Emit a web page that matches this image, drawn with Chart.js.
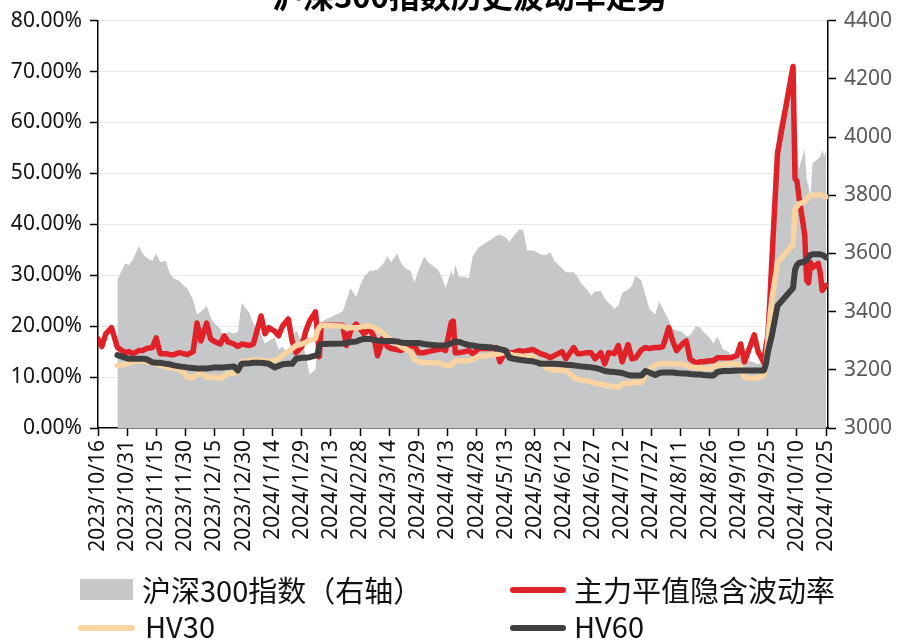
<!DOCTYPE html>
<html><head><meta charset="utf-8">
<script src="https://cdn.jsdelivr.net/npm/chart.js@4/dist/chart.umd.min.js"></script>
<style>
html,body{margin:0;padding:0;background:#fff;}
#wrap{position:relative;width:897px;height:641px;overflow:hidden;}
#c{position:absolute;left:0;top:0;}
.t{position:absolute;font-family:"Noto Sans CJK SC","Noto Sans",sans-serif;font-size:29px;line-height:34px;color:#111;white-space:nowrap;}
.sw{position:absolute;}
#title{position:absolute;left:272px;top:-21px;font-family:"Noto Sans CJK SC",sans-serif;font-weight:bold;font-size:31px;line-height:31px;white-space:nowrap;color:#000;}
</style></head>
<body><div id="wrap"><canvas id="c" width="897" height="641"></canvas>
<div id="title">沪深300指数历史波动率走势</div>
<div class="sw" style="left:80px;top:579px;width:53px;height:21px;background:#c6c7c9"></div>
<div class="t" style="left:142px;top:572px">沪深300指数（右轴）</div>
<div class="sw" style="left:510px;top:587px;width:56px;height:6px;border-radius:3px;background:#e02127"></div>
<div class="t" style="left:574px;top:572px">主力平值隐含波动率</div>
<div class="sw" style="left:78px;top:625px;width:57px;height:6px;border-radius:3px;background:#f9d4a0"></div>
<div class="t" style="left:145px;top:608px">HV30</div>
<div class="sw" style="left:510px;top:625px;width:56px;height:6px;border-radius:3px;background:#404040"></div>
<div class="t" style="left:574px;top:608px">HV60</div>
</div>
<script>
const dates = ['2023-10-16','2023-10-18','2023-10-20','2023-10-23','2023-10-26','2023-10-30','2023-11-01','2023-11-03','2023-11-06','2023-11-08',
'2023-11-10','2023-11-13','2023-11-15','2023-11-17','2023-11-20','2023-11-22','2023-11-24','2023-11-27','2023-11-29','2023-12-01',
'2023-12-04','2023-12-06','2023-12-08','2023-12-11','2023-12-13','2023-12-15','2023-12-18','2023-12-20','2023-12-22','2023-12-25',
'2023-12-27','2023-12-29','2024-01-02','2024-01-04','2024-01-08','2024-01-10','2024-01-12','2024-01-15','2024-01-17','2024-01-19',
'2024-01-22','2024-01-24','2024-01-26','2024-01-29','2024-01-31','2024-02-02','2024-02-05','2024-02-06','2024-02-07','2024-02-08',
'2024-02-19','2024-02-21','2024-02-23','2024-02-26','2024-02-28','2024-03-01','2024-03-04','2024-03-06','2024-03-08','2024-03-11',
'2024-03-13','2024-03-15','2024-03-18','2024-03-20','2024-03-22','2024-03-25','2024-03-27','2024-03-29','2024-04-01','2024-04-03',
'2024-04-08','2024-04-10','2024-04-12','2024-04-15','2024-04-16','2024-04-17','2024-04-19','2024-04-22','2024-04-24','2024-04-26',
'2024-04-29','2024-05-06','2024-05-08','2024-05-10','2024-05-13','2024-05-15','2024-05-17','2024-05-20','2024-05-22','2024-05-24',
'2024-05-27','2024-05-29','2024-05-31','2024-06-03','2024-06-05','2024-06-07','2024-06-11','2024-06-13','2024-06-17','2024-06-19',
'2024-06-21','2024-06-24','2024-06-26','2024-06-28','2024-07-01','2024-07-03','2024-07-05','2024-07-08','2024-07-10','2024-07-12',
'2024-07-15','2024-07-17','2024-07-19','2024-07-22','2024-07-24','2024-07-26','2024-07-29','2024-07-31','2024-08-02','2024-08-05',
'2024-08-07','2024-08-09','2024-08-12','2024-08-14','2024-08-16','2024-08-19','2024-08-21','2024-08-23','2024-08-26','2024-08-28',
'2024-08-30','2024-09-02','2024-09-04','2024-09-06','2024-09-09','2024-09-11','2024-09-13','2024-09-18','2024-09-20','2024-09-23',
'2024-09-24','2024-09-25','2024-09-26','2024-09-27','2024-09-30','2024-10-08','2024-10-09','2024-10-10','2024-10-11','2024-10-14',
'2024-10-15','2024-10-16','2024-10-17','2024-10-18','2024-10-21','2024-10-22','2024-10-23','2024-10-24','2024-10-25'];

const csi300 = [null,null,null,null,3510,3565,3560,3580,3625,3600,
3585,3575,3600,3570,3575,3530,3515,3505,3490,3480,
3440,3390,3400,3420,3380,3360,3340,3310,3330,3325,
3330,3430,3395,3360,3320,3290,3300,3310,3270,3280,
3250,3300,3335,3300,3250,3185,3200,3300,3350,3365,
3400,3440,3480,3450,3490,3520,3540,3540,3545,3565,
3590,3570,3600,3570,3550,3540,3500,3540,3590,3570,
3545,3520,3480,3540,3520,3560,3520,3520,3515,3590,
3620,3650,3660,3665,3655,3640,3660,3683,3680,3610,
3610,3605,3595,3595,3605,3575,3550,3535,3535,3520,
3495,3475,3455,3470,3470,3445,3430,3410,3420,3465,
3475,3490,3525,3505,3455,3410,3390,3435,3410,3370,
3340,3335,3330,3315,3320,3350,3345,3330,3310,3290,
3315,3270,3265,3255,3250,3245,3235,3225,3220,3225,
3350,3370,3510,3705,4020,4250,3955,3995,3890,3960,
3855,3830,3790,3910,3925,3935,3955,3935,3955];

const ivATM = [17.5,16.0,18.5,19.7,15.8,14.8,15.0,14.6,15.2,15.2,
15.6,15.8,17.7,14.6,14.6,14.4,14.4,14.8,14.6,14.4,
15.0,20.6,17.1,20.6,17.5,17.0,16.5,18.1,16.9,16.5,
16.0,16.5,16.2,16.5,22.0,18.5,19.7,19.0,18.1,20.0,
21.4,17.1,14.8,16.0,19.0,21.0,22.8,19.0,14.0,20.2,
20.2,16.2,19.0,20.4,19.5,18.5,19.5,18.0,14.2,18.0,
16.0,15.6,15.4,15.2,15.6,16.0,16.2,14.8,14.8,15.0,
15.4,15.6,15.2,20.8,21.0,14.8,14.8,15.0,15.2,14.6,
15.6,15.6,15.8,13.0,15.0,14.8,14.8,15.2,15.0,15.2,
15.4,15.0,14.6,14.2,13.8,14.2,15.0,13.6,15.8,14.6,
14.6,14.8,14.8,13.6,14.8,12.6,14.8,14.6,16.2,13.0,
16.4,13.6,13.8,15.4,15.8,15.6,15.8,15.8,16.0,19.7,
17.1,15.2,16.5,17.1,13.5,12.8,13.0,13.0,13.2,13.2,
13.8,13.8,13.8,13.8,14.2,16.5,13.0,18.3,15.0,12.8,
16.0,18.0,24.5,32.3,54.0,71.0,49.0,48.5,45.5,38.0,
29.0,28.5,32.5,31.5,32.3,30.5,27.0,27.5,28.0];

const hv30 = [null,null,null,null,12.3,12.5,12.8,13.0,13.2,13.2,
13.0,12.8,12.6,12.3,12.0,11.9,11.8,11.5,10.9,10.0,
9.9,10.5,10.9,9.9,10.0,10.0,9.7,10.2,10.7,10.7,
11.0,13.0,13.2,13.3,13.3,13.2,13.0,13.2,13.6,14.2,
15.0,15.6,16.2,16.5,16.8,17.2,17.6,19.0,19.8,20.2,
20.0,19.6,19.7,19.7,19.8,20.0,20.0,19.8,19.3,18.5,
17.8,17.2,16.5,16.0,15.6,15.0,13.5,13.0,12.8,12.8,
12.8,12.6,12.3,12.3,12.8,13.2,13.2,13.2,13.2,13.5,
14.0,14.4,14.5,14.6,14.8,14.5,14.3,14.2,14.0,14.2,
14.0,13.2,12.6,11.8,11.5,11.4,11.3,11.3,10.0,9.6,
9.4,9.3,9.0,8.8,8.6,8.4,8.3,8.1,8.0,8.6,
8.8,8.9,9.0,9.0,10.5,11.5,12.4,12.6,12.6,12.6,
12.6,12.6,12.5,12.3,12.0,11.9,11.8,11.7,11.7,12.0,
12.3,12.4,12.5,12.6,12.6,12.0,9.9,9.7,9.9,10.3,
12.5,17.0,21.5,25.0,32.5,36.0,43.0,43.5,44.0,44.4,
45.0,45.4,45.6,45.7,45.7,45.8,45.7,45.4,45.4];

const hv60 = [null,null,null,null,14.3,13.8,13.6,13.6,13.6,13.6,
13.5,12.9,12.8,12.8,12.6,12.5,12.3,12.1,12.0,11.9,
11.8,11.7,11.7,11.7,11.8,11.9,11.9,11.9,12.0,12.1,
11.3,12.6,12.7,12.8,12.8,12.7,12.6,11.9,12.2,12.5,
12.6,12.6,13.6,13.8,13.8,13.9,14.2,14.3,16.2,16.5,
16.6,16.7,16.9,17.0,17.3,17.5,17.5,17.3,17.2,17.1,
17.1,17.1,17.0,16.8,16.7,16.7,16.7,16.7,16.5,16.4,
16.2,16.2,16.2,16.6,16.8,17.0,16.9,16.5,16.3,16.2,
16.0,15.8,15.6,15.5,15.2,13.8,13.6,13.4,13.3,13.2,
13.1,12.9,12.6,12.6,12.6,12.6,12.5,12.4,12.3,12.2,
12.1,12.0,11.9,11.8,11.5,11.2,11.1,11.0,10.9,10.8,
10.4,10.3,10.3,10.3,11.2,10.9,10.4,10.8,10.9,10.9,
10.9,10.8,10.7,10.7,10.6,10.5,10.5,10.4,10.3,10.3,
11.0,11.2,11.2,11.2,11.3,11.3,11.3,11.3,11.3,11.3,
12.5,14.8,16.5,18.0,24.0,27.5,31.0,32.0,32.4,32.7,
33.0,33.5,34.0,34.1,34.1,34.1,34.0,33.8,33.5];

const base = Date.UTC(2023, 9, 16);
function dayOf(s){const p=s.split('-').map(Number);return Math.round((Date.UTC(p[0],p[1]-1,p[2])-base)/86400000);}
function dateLabel(v){const t=new Date(base+v*86400000);return t.getUTCFullYear()+'/'+(t.getUTCMonth()+1)+'/'+t.getUTCDate();}
const xs = dates.map(dayOf);
const pts = arr => arr.map((v,i)=>({x:xs[i],y:v})).filter(p=>p.y!==null);
const tickDays = [];
for (let d = 0; d <= 375; d += 15) tickDays.push(d);

Chart.defaults.font.family = '"Noto Sans", sans-serif';
const lineCommon = {pointRadius:0,tension:0,borderJoinStyle:'round',borderCapStyle:'round',fill:false,yAxisID:'y'};

new Chart(document.getElementById('c'), {
  type:'line',
  data:{datasets:[
    {label:'沪深300指数（右轴）',data:pts(csi300),yAxisID:'y1',fill:'start',backgroundColor:'#c6c7c9',borderWidth:0,pointRadius:0,tension:0,order:4},
    Object.assign({label:'主力平值隐含波动率',data:pts(ivATM),borderColor:'#e02127',borderWidth:5.5,order:3},lineCommon),
    Object.assign({label:'HV30',data:pts(hv30),borderColor:'#f9d4a0',borderWidth:5.5,order:2},lineCommon),
    Object.assign({label:'HV60',data:pts(hv60),borderColor:'#404040',borderWidth:6,order:1},lineCommon)
  ]},
  options:{
    responsive:false,animation:false,
    layout:{padding:{top:17,left:0,right:0,bottom:0}},
    plugins:{legend:{display:false},tooltip:{enabled:false}},
    scales:{
      x:{type:'linear',min:0,max:376,
        afterBuildTicks:s=>{s.ticks=tickDays.map(v=>({value:v}));},
        afterFit:s=>{s.height=213;},
        ticks:{stepSize:15,autoSkip:false,minRotation:90,maxRotation:90,padding:4,color:'#111',font:{size:21},callback:v=>dateLabel(v)},
        grid:{drawOnChartArea:false,drawTicks:true,tickLength:8,tickColor:'#000',tickWidth:1.5},
        border:{display:true,color:'#000',width:1.5}},
      y:{position:'left',min:0,max:80,
        afterFit:s=>{s.width=98;},
        ticks:{stepSize:10,padding:8,color:'#111',font:{size:21},callback:v=>v.toFixed(2)+'%'},
        grid:{color:c=>c.tick&&c.tick.value===0?'rgba(0,0,0,0)':'#e9e9e9',lineWidth:1,tickLength:8,tickColor:'#000',tickWidth:1.5},
        border:{display:true,color:'#000',width:1.5}},
      y1:{position:'right',min:3000,max:4400,
        afterFit:s=>{s.width=69;},
        ticks:{stepSize:200,padding:8,color:'#595959',font:{size:21},callback:v=>String(v)},
        grid:{drawOnChartArea:false,tickLength:8,tickColor:'#000',tickWidth:1.5},
        border:{display:true,color:'#000',width:1.5}}
    }
  }
});
</script>
</body></html>
